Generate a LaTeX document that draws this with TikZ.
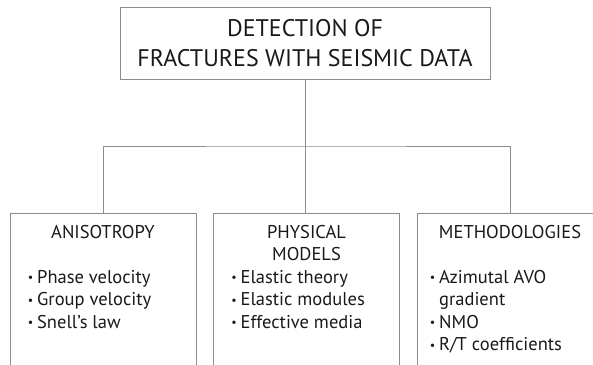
\documentclass[tikz,border=0pt]{standalone}
\usepackage{fontspec}
\setmainfont{PT Sans}
\usetikzlibrary{positioning}

\newcommand{\tb}{\raisebox{1.5pt}{\fontsize{12}{12}\selectfont\textbullet}\hspace{4pt}}

\begin{document}
\begin{tikzpicture}[x=1pt, y=1pt,
    % Define node styles
    titlebox/.style={rectangle, draw=black!45, line width=0.9pt, minimum width=370pt,
                minimum height=72pt, align=center, text=black!90,
                font=\fontsize{24}{30}\selectfont},
    catbox/.style={rectangle, draw=black!45, line width=0.9pt, minimum width=186pt,
                minimum height=175pt, anchor=north},
    head/.style={align=center, anchor=base, inner sep=0pt, text=black!90,
                font=\fontsize{18.5}{22.5}\selectfont},
    item/.style={anchor=base west, inner sep=0pt, text=black!90,
                font=\fontsize{18.5}{22.5}\selectfont},
    link/.style={draw=black!45, line width=0.9pt}
]
    \useasboundingbox (0,0) rectangle (593,-364);
    \clip (0,0) rectangle (593,-364);

    % Create nodes
    \node[titlebox] (detect) at (305,-43) {DETECTION OF\\FRACTURES WITH SEISMIC DATA};
    \coordinate (split) at (305,-146);

    \node[catbox] (aniso) at (103,-213) {};
    \node[catbox] (phys) at (306.5,-213) {};
    \node[catbox] (method) at (510,-213) {};

    % Headings
    \node[head] (anisohead) at ([yshift=-25pt]aniso.north) {ANISOTROPY};
    \node[head] (physhead) at ([yshift=-25pt]phys.north) {PHYSICAL};
    \node[head] (physhead2) at ([yshift=-47.5pt]phys.north) {MODELS};
    \node[head] (methodhead) at ([yshift=-25pt]method.north) {METHODOLOGIES};

    % Bullet lists
    \foreach \txt [count=\i] in {Phase velocity, Group velocity, Snell’s law}
        \node[item] (aniso-\i) at ([xshift=18pt, yshift={-70pt-22.5pt*(\i-1)}]aniso.north west) {\tb\txt};
    \foreach \txt [count=\i] in {Elastic theory, Elastic modules, Effective media}
        \node[item] (phys-\i) at ([xshift=18pt, yshift={-70pt-22.5pt*(\i-1)}]phys.north west) {\tb\txt};
    \foreach \txt [count=\i] in {\tb Azimutal AVO, \phantom{\tb}gradient, \tb NMO, \tb R/T coefficients}
        \node[item] (method-\i) at ([xshift=13pt, yshift={-70pt-22.5pt*(\i-1)}]method.north west) {\txt};

    % Draw connectors
    \draw[link] (detect.south) -- (split);
    \draw[link] (aniso.north) |- (split) -| (method.north);
    \draw[link] (split) -- (split |- phys.north);
\end{tikzpicture}
\end{document}
